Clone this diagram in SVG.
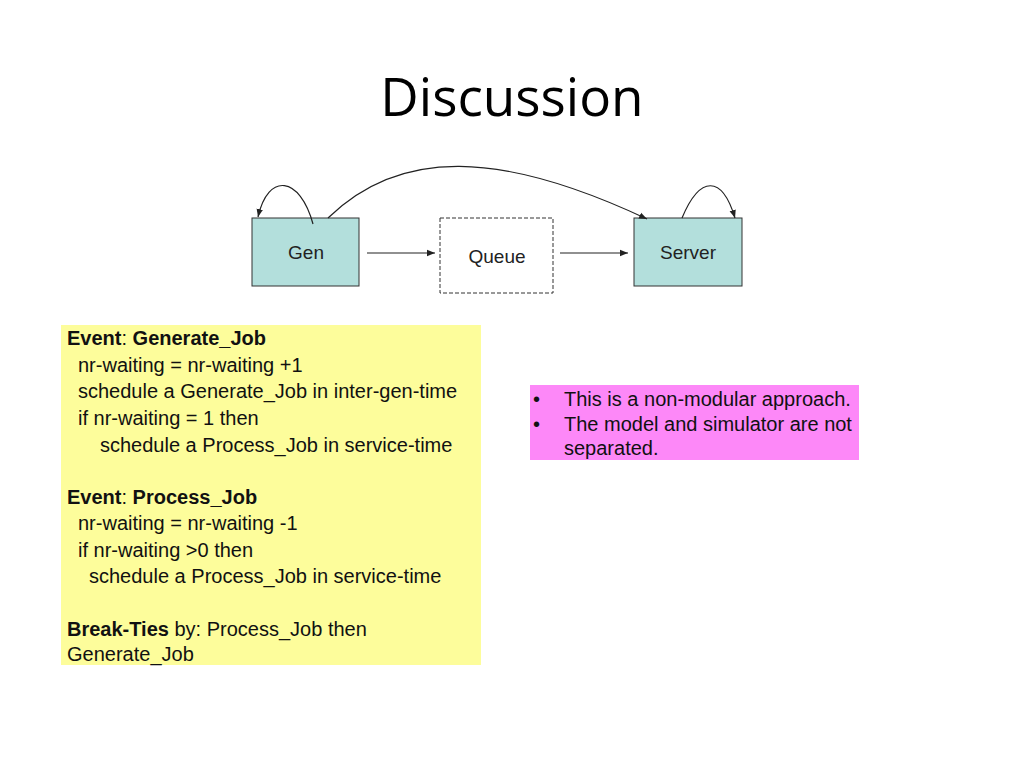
<svg xmlns="http://www.w3.org/2000/svg" width="1024" height="768" viewBox="0 0 1024 768">
<defs>
<marker id="ah" viewBox="0 0 10 10" refX="10" refY="5" markerWidth="8" markerHeight="8" markerUnits="userSpaceOnUse" orient="auto">
<path d="M0,1 L10,5 L0,9 Z" fill="#222"/>
</marker>
</defs>
<style>
.node{fill:#b3dfdc;stroke:#333;stroke-width:1}
.dash{fill:#fff;stroke:#333;stroke-width:1;stroke-dasharray:4,2}
.lbl{font-family:"Liberation Sans",Arial,sans-serif;font-size:19px;fill:#222;text-anchor:middle}
.conn{fill:none;stroke:#222;stroke-width:1.2;marker-end:url(#ah)}
.t{font-family:"Liberation Sans",Arial,sans-serif;font-size:20px;fill:#111}
.b{font-weight:bold}
</style>
<rect width="1024" height="768" fill="#fff"/>
<text x="512" y="116" font-family="'Open Sans','Liberation Sans',sans-serif" font-size="53" text-anchor="middle" fill="#000">Discussion</text>
<g id="gen"><rect class="node" x="252" y="218" width="107" height="68"/><text class="lbl" x="306" y="259">Gen</text></g>
<g id="queue"><rect class="dash" x="440" y="218" width="113" height="75"/><text class="lbl" x="497" y="263">Queue</text></g>
<g id="server"><rect class="node" x="634" y="218" width="108" height="68"/><text class="lbl" x="688" y="259">Server</text></g>
<g id="connectors">
<path class="conn" d="M367,253 L435,253"/>
<path class="conn" d="M560,253 L628,253"/>
<path class="conn" d="M313,224 C300,176 268,172 258,217"/>
<path class="conn" d="M328,218 C400,148 500,150 647,219"/>
<path class="conn" d="M682,218 C700,175 722,175 735,218"/>
</g>
<g id="events">
<rect x="61" y="325" width="420" height="340" fill="#fdfd9b"/>
<text class="t" x="67" y="345"><tspan class="b">Event</tspan>: <tspan class="b">Generate_Job</tspan></text>
<text class="t" x="78" y="372">nr-waiting = nr-waiting +1</text>
<text class="t" x="78" y="398">schedule a Generate_Job in inter-gen-time</text>
<text class="t" x="78" y="425">if nr-waiting = 1 then</text>
<text class="t" x="100" y="452">schedule a Process_Job in service-time</text>
<text class="t" x="67" y="504"><tspan class="b">Event</tspan>: <tspan class="b">Process_Job</tspan></text>
<text class="t" x="78" y="530">nr-waiting = nr-waiting -1</text>
<text class="t" x="78" y="557">if nr-waiting &gt;0 then</text>
<text class="t" x="89" y="583">schedule a Process_Job in service-time</text>
<text class="t" x="67" y="636"><tspan class="b">Break-Ties</tspan> by: Process_Job then</text>
<text class="t" x="67" y="661">Generate_Job</text>
</g>
<g id="notes">
<rect x="530" y="385" width="329" height="75" fill="#fd88f8"/>
<text class="t" x="533" y="406">•</text>
<text class="t" x="564" y="406">This is a non-modular approach.</text>
<text class="t" x="533" y="431">•</text>
<text class="t" x="564" y="431">The model and simulator are not</text>
<text class="t" x="564" y="455">separated.</text>
</g>
</svg>
